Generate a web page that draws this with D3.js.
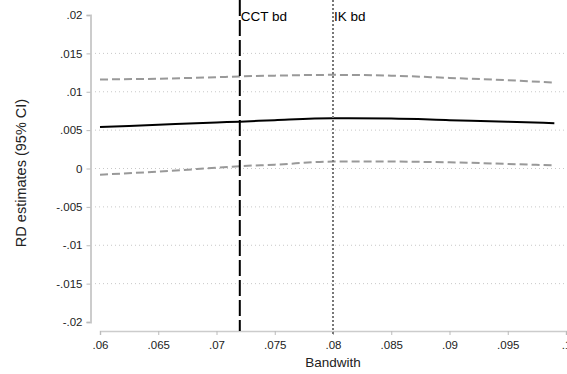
<!DOCTYPE html>
<html>
<head>
<meta charset="utf-8">
<script src="https://cdn.jsdelivr.net/npm/d3@7"></script>
<style>
  body { margin: 0; background: #fff; }
  svg { display: block; font-family: "Liberation Sans", Arial, sans-serif; }
</style>
</head>
<body>
<svg id="chart" width="567" height="374"></svg>
<script>
// Bandwidth grid and RD estimates with 95% confidence bounds
const bandwidth = [0.060, 0.065, 0.070, 0.072, 0.075, 0.080, 0.085, 0.090, 0.095, 0.099];
const estimate  = [0.0054, 0.0057, 0.0060, 0.0061, 0.0063, 0.00655, 0.0065, 0.0063, 0.0061, 0.0059];
const upperCI   = [0.0116, 0.0117, 0.0119, 0.0120, 0.0121, 0.0122, 0.0121, 0.0118, 0.0115, 0.0112];
const lowerCI   = [-0.0008, -0.0004, 0.0001, 0.0003, 0.0005, 0.0009, 0.0009, 0.0008, 0.0006, 0.0004];

const xTicks = [0.06, 0.065, 0.07, 0.075, 0.08, 0.085, 0.09, 0.095, 0.1];
const yTicks = [0.02, 0.015, 0.01, 0.005, 0, -0.005, -0.01, -0.015, -0.02];

// Reference bandwidths
const refLines = [
  { name: "CCT bd", value: 0.072 },
  { name: "IK bd",  value: 0.080 }
];

const svg = d3.select("#chart");
const x = d3.scaleLinear().domain([0.06, 0.1]).range([100, 566]);
const y = d3.scaleLinear().domain([-0.02, 0.02]).range([322, 15]);

// Stata-style number format: drop the leading zero
const fmt = v => {
  if (v === 0) return "0";
  let s = String(+v.toFixed(4));
  return s.replace(/^(-?)0\./, "$1.");
};

// Horizontal grid
svg.append("g")
  .selectAll("line")
  .data(yTicks.filter(v => Math.abs(v) < 0.02))
  .join("line")
  .attr("x1", 91).attr("x2", 567)
  .attr("y1", d => y(d)).attr("y2", d => y(d))
  .attr("stroke", "#c8c8c8").attr("stroke-width", 1)
  .attr("stroke-dasharray", "1,3");

// Y axis
const yAxis = svg.append("g")
  .attr("transform", "translate(90.5,0)")
  .call(d3.axisLeft(y).tickValues(yTicks).tickFormat(fmt).tickSize(4).tickPadding(4));
yAxis.select(".domain").attr("stroke", "#cccccc").attr("stroke-width", 2);
yAxis.selectAll(".tick line").attr("stroke", "#bbbbbb");
yAxis.selectAll(".tick text").attr("font-size", 11.5).attr("fill", "#222");

// X axis
const xAxis = svg.append("g")
  .attr("transform", "translate(0,331)")
  .call(d3.axisBottom(x).tickValues(xTicks).tickFormat(fmt).tickSize(4).tickPadding(6));
xAxis.select(".domain").attr("stroke", "#cccccc").attr("stroke-width", 1.5);
xAxis.selectAll(".tick line").attr("stroke", "#bbbbbb");
xAxis.selectAll(".tick text").attr("font-size", 11.5).attr("fill", "#222");

// Axis titles
svg.append("text")
  .attr("x", 333).attr("y", 367)
  .attr("text-anchor", "middle").attr("font-size", 13.5).attr("fill", "#222")
  .text("Bandwith");
svg.append("text")
  .attr("transform", "translate(26,173) rotate(-90)")
  .attr("text-anchor", "middle").attr("font-size", 14.5).attr("fill", "#222")
  .text("RD estimates (95% CI)");

const line = vals => d3.line()
  .x((d, i) => x(bandwidth[i]))
  .y(d => y(d))
  .curve(d3.curveMonotoneX)(vals);

// Confidence bounds
[upperCI, lowerCI].forEach(vals => {
  svg.append("path")
    .attr("d", line(vals))
    .attr("fill", "none").attr("stroke", "#999999").attr("stroke-width", 2)
    .attr("stroke-dasharray", "8,4");
});

// Point estimate
svg.append("path")
  .attr("d", line(estimate))
  .attr("fill", "none").attr("stroke", "#000").attr("stroke-width", 2);

// Reference bandwidth lines
svg.append("line")
  .attr("x1", x(refLines[0].value)).attr("x2", x(refLines[0].value))
  .attr("y1", 0).attr("y2", 331)
  .attr("stroke", "#000").attr("stroke-width", 2)
  .attr("stroke-dasharray", "16,4");
svg.append("line")
  .attr("x1", x(refLines[1].value)).attr("x2", x(refLines[1].value))
  .attr("y1", 0).attr("y2", 336)
  .attr("stroke", "#777").attr("stroke-width", 2)
  .attr("stroke-dasharray", "2,2");

svg.selectAll(".reflabel")
  .data(refLines)
  .join("text")
  .attr("class", "reflabel")
  .attr("x", d => x(d.value) + 1).attr("y", 21)
  .attr("font-size", 13.5).attr("fill", "#000")
  .text(d => d.name);
</script>
</body>
</html>
